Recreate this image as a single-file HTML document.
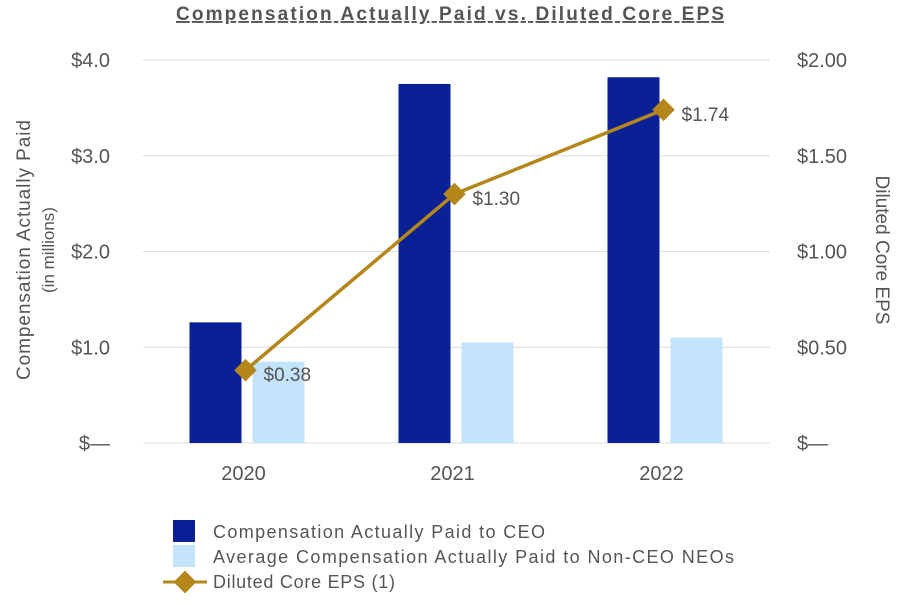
<!DOCTYPE html>
<html><head><meta charset="utf-8"><style>
body{margin:0;background:#fff;}
svg text{font-family:"Liberation Sans",sans-serif;fill:#555;}
</style></head><body>
<svg id="c" width="900" height="600" xmlns="http://www.w3.org/2000/svg">
<text x="176" y="20" textLength="548" lengthAdjust="spacing" font-size="19" font-weight="bold" text-decoration="underline">Compensation Actually Paid vs. Diluted Core EPS</text>
<g id="grid"></g><g id="bars"></g><g id="line"></g><g id="labels"></g>
<text transform="translate(30,380) rotate(-90)" textLength="260" lengthAdjust="spacing" font-size="19">Compensation Actually Paid</text>
<text transform="translate(54,250) rotate(-90)" text-anchor="middle" font-size="17">(in millions)</text>
<text transform="translate(876,250) rotate(90)" text-anchor="middle" font-size="19">Diluted Core EPS</text>
<g>
<rect x="173" y="520" width="22" height="22" fill="#0a2196"/>
<text x="213" y="538" font-size="18" textLength="332" lengthAdjust="spacing">Compensation Actually Paid to CEO</text>
<rect x="173" y="545" width="22" height="22" fill="#c4e4fc"/>
<text x="213" y="563" font-size="18" textLength="521" lengthAdjust="spacing">Average Compensation Actually Paid to Non-CEO NEOs</text>
<line x1="163" y1="582" x2="207" y2="582" stroke="#b5861a" stroke-width="3"/>
<rect x="177" y="574" width="16" height="16" fill="#b5861a" transform="rotate(45 185 582)"/>
<text x="213" y="588" font-size="18" textLength="182" lengthAdjust="spacing">Diluted Core EPS (1)</text>
</g>
</svg>
<script>
const categories=["2020","2021","2022"];
const ceoValues=[1.26,3.75,3.82];
const neoValues=[0.85,1.05,1.10];
const epsValues=[0.38,1.30,1.74];
const leftTicks=["$—","$1.0","$2.0","$3.0","$4.0"];
const rightTicks=["$—","$0.50","$1.00","$1.50","$2.00"];
const NS="http://www.w3.org/2000/svg";
const x0=143,x1=770,yB=443,yT=60;
const yL=v=>yB-(v/4)*(yB-yT);
const yR=v=>yB-(v/2)*(yB-yT);
const band=(x1-x0)/categories.length;
const cx=i=>x0+band*(i+0.5);
function mk(t,a,p){const e=document.createElementNS(NS,t);for(const k in a)e.setAttribute(k,a[k]);p.appendChild(e);return e;}
const g=document.getElementById('grid'),b=document.getElementById('bars'),l=document.getElementById('line'),lb=document.getElementById('labels');
leftTicks.forEach((t,i)=>{const y=yL(i);
const ln=mk('line',{x1:x0,x2:x1,y1:y,y2:y,stroke:'#ddd','stroke-width':1},g);


const tx=mk('text',{x:110,y:y+7,'text-anchor':'end','font-size':20},g);tx.textContent=t;


const tr=mk('text',{x:797,y:yR(i*0.5)+7,'font-size':20},g);tr.textContent=rightTicks[i];

});
categories.forEach((c,i)=>{
const r1=mk('rect',{x:cx(i)-58,y:yL(ceoValues[i]),width:52,height:yB-yL(ceoValues[i]),fill:'#0a2196'},b);


const r2=mk('rect',{x:cx(i)+5,y:yL(neoValues[i]),width:52,height:yB-yL(neoValues[i]),fill:'#c4e4fc'},b);


const t=mk('text',{x:cx(i)-4,y:480,'text-anchor':'middle','font-size':20},lb);t.textContent=c;

});
const pts=epsValues.map((v,i)=>[cx(i)-2,yR(v)]);
const pl=mk('polyline',{points:pts.map(p=>p.join(',')).join(' '),fill:'none',stroke:'#b5861a','stroke-width':3.5},l);


pts.forEach((p,i)=>{
const m=mk('rect',{x:p[0]-8,y:p[1]-8,width:16,height:16,fill:'#b5861a',transform:`rotate(45 ${p[0]} ${p[1]})`},l);


const t=mk('text',{x:p[0]+18,y:p[1]+11,'font-size':19},lb);t.textContent='$'+epsValues[i].toFixed(2);

});
</script>
</body></html>
